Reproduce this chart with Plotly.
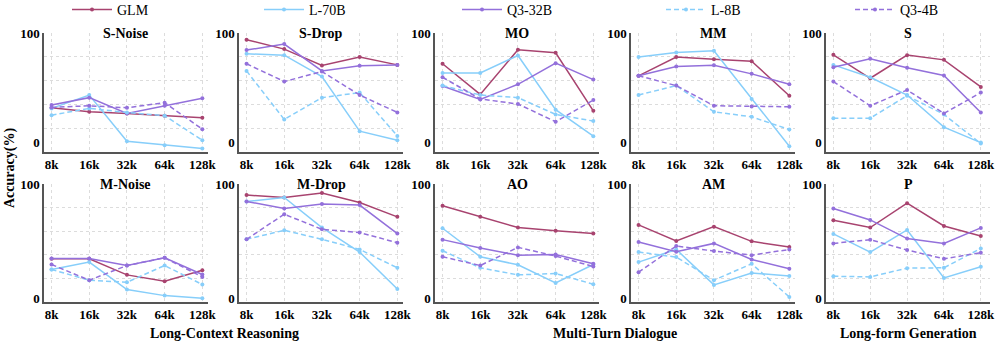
"""Accuracy of five models over context length, ten tasks in two rows"""
import plotly.graph_objects as go

# categories
contexts = ["8k", "16k", "32k", "64k", "128k"]
models = ["GLM", "L-70B", "Q3-32B", "L-8B", "Q3-4B"]
tasks = ["S-Noise", "S-Drop", "MO", "MM", "S",
         "M-Noise", "M-Drop", "AO", "AM", "P"]
groups = ["Long-Context Reasoning", "Multi-Turn Dialogue", "Long-form Generation"]

# accuracy (%) per task, one list per model (8k ... 128k)
s_noise = {"GLM": [31.8, 28.1, 26.6, 24.5, 22.6],
           "L-70B": [31.2, 43.4, 1.2, -2.4, -5.5],
           "Q3-32B": [34.3, 41.0, 26.6, 33.6, 40.4],
           "L-8B": [25.0, 31.2, 27.5, 24.5, 2.1],
           "Q3-4B": [32.1, 33.6, 31.8, 36.4, 12.2]}
s_drop = {"GLM": [93.9, 85.3, 70.3, 78.0, 70.9],
          "L-70B": [81.0, 79.8, 60.2, 10.4, 2.1],
          "Q3-32B": [84.4, 89.9, 65.4, 70.0, 70.9],
          "L-8B": [65.4, 21.1, 41.0, 45.6, 6.1],
          "Q3-4B": [71.9, 55.7, 64.8, 43.4, 27.5]}
mo = {"GLM": [71.9, 44.0, 84.7, 82.0, 29.0],
      "L-70B": [63.6, 63.6, 79.5, 30.0, 5.8],
      "Q3-32B": [51.7, 39.4, 53.2, 72.5, 57.5],
      "L-8B": [52.0, 43.4, 41.0, 25.7, 19.6],
      "Q3-4B": [59.6, 39.8, 35.2, 19.0, 38.8]}
mm = {"GLM": [60.9, 78.0, 76.1, 74.3, 42.8],
      "L-70B": [78.0, 82.3, 83.8, 39.8, -3.4],
      "Q3-32B": [60.9, 69.4, 70.6, 62.7, 53.2],
      "L-8B": [43.4, 52.0, 28.1, 23.5, 11.9],
      "Q3-4B": [60.9, 52.0, 33.6, 33.0, 32.7]}
s = {"GLM": [80.1, 58.7, 79.8, 75.5, 50.8],
     "L-70B": [70.9, 59.6, 43.4, 14.1, 0.0],
     "Q3-32B": [68.8, 76.5, 68.2, 61.2, 27.5],
     "L-8B": [22.3, 22.3, 42.8, 25.7, -0.9],
     "Q3-4B": [55.7, 33.6, 48.0, 26.6, 45.6]}
m_noise = {"GLM": [34.4, 34.4, 20.3, 14.7, 24.4],
           "L-70B": [25.0, 31.5, 7.4, 2.1, -0.3],
           "Q3-32B": [34.7, 34.7, 28.5, 35.3, 20.6],
           "L-8B": [25.0, 15.6, 13.8, 28.5, 11.8],
           "Q3-4B": [29.4, 15.6, 28.5, 35.3, 18.5]}
m_drop = {"GLM": [90.3, 88.2, 92.0, 83.8, 71.2],
          "L-70B": [84.7, 88.2, 61.8, 40.3, 7.9],
          "Q3-32B": [84.7, 78.5, 82.4, 81.5, 56.5],
          "L-8B": [51.5, 59.4, 51.5, 42.6, 26.5],
          "Q3-4B": [51.5, 73.5, 60.3, 57.4, 48.5]}
ao = {"GLM": [80.9, 71.2, 61.8, 59.1, 56.5],
      "L-70B": [61.2, 36.2, 29.1, 13.2, 29.4],
      "Q3-32B": [51.2, 43.8, 37.6, 38.2, 30.0],
      "L-8B": [41.5, 26.5, 20.3, 21.5, 12.1],
      "Q3-4B": [36.2, 28.5, 44.4, 36.8, 27.6]}
am = {"GLM": [64.1, 50.0, 62.6, 49.7, 44.7],
      "L-70B": [31.5, 42.6, 11.5, 22.0, 19.4],
      "Q3-32B": [49.1, 40.6, 47.9, 33.8, 25.6],
      "L-8B": [40.3, 35.9, 15.6, 30.0, 0.9],
      "Q3-4B": [22.6, 45.6, 41.2, 37.6, 42.6]}
p = {"GLM": [68.2, 61.8, 83.2, 63.2, 54.4],
     "L-70B": [56.2, 40.3, 59.7, 17.6, 27.4],
     "Q3-32B": [78.5, 68.5, 52.1, 47.9, 61.5],
     "L-8B": [19.1, 18.5, 26.2, 26.5, 43.5],
     "Q3-4B": [47.9, 51.2, 42.1, 34.4, 39.7]}

scores = [s_noise, s_drop, mo, mm, s, m_noise, m_drop, ao, am, p]

# styles
colors = {"GLM": "#A8436F", "L-70B": "#87CEFA", "Q3-32B": "#9370DB",
          "L-8B": "#87CEFA", "Q3-4B": "#9370DB"}
dashes = {"GLM": "solid", "L-70B": "solid", "Q3-32B": "solid",
          "L-8B": "5px,3px", "Q3-4B": "5px,3px"}

W, H = 996, 343
SERIF = "Liberation Serif"
col_left = [44, 239, 435, 631, 826]   # px
col_w = 164
col_xmax = [4.15, 4.15, 4.15, 4.15, 4.25]  # last column a bit tighter
row_px = [(33, 152), (184, 302)]      # top / bottom of each row, px from top
row_range = [(-8.6, 100), (-3.5, 100)]
legend_px = [73, 265, 463, 667, 856]  # where each legend line starts


def bold(size):
    return dict(family=SERIF, size=size, color="black", weight="bold")


fig = go.Figure()
layout = dict(width=W, height=H,
              margin=dict(l=0, r=0, t=0, b=0, autoexpand=False),
              plot_bgcolor="white", paper_bgcolor="white",
              showlegend=True, annotations=[])

# one small legend per model, so each entry sits where the reference has it
for k, m in enumerate(models):
    key = "legend" if k == 0 else "legend" + str(k + 1)
    layout[key] = dict(orientation="h", x=(legend_px[k] - 6) / W,
                       y=1 - 10 / H, xanchor="left", yanchor="middle",
                       itemwidth=40, bgcolor="rgba(0,0,0,0)",
                       font=dict(family=SERIF, size=14, color="black"))

for i, task in enumerate(tasks):
    row, col = divmod(i, 5)
    n = "" if i == 0 else str(i + 1)
    x0 = col_left[col] / W
    x1 = (col_left[col] + col_w) / W
    top, bot = row_px[row]
    y0, y1 = 1 - bot / H, 1 - top / H
    lo, hi = row_range[row]
    grid = [lo + k * (hi - lo) / 5 for k in range(1, 6)]

    layout["xaxis" + n] = dict(
        domain=[x0, x1], anchor="y" + n, type="category",
        range=[-0.2, col_xmax[col]], showline=True, linecolor="#555",
        linewidth=1.5, showgrid=True, gridcolor="#dcdcdc", griddash="dot",
        gridwidth=1, ticks="", tickfont=bold(13), zeroline=False)
    layout["yaxis" + n] = dict(
        domain=[y0, y1], anchor="x" + n, range=[lo, hi],
        tickmode="array", tickvals=[0, 100], ticktext=["0", "100"],
        showline=True, linecolor="#555", linewidth=1.5, showgrid=False,
        zeroline=False, ticks="", tickfont=bold(13),
        minor=dict(tickmode="array", tickvals=grid, showgrid=True,
                   gridcolor="#dcdcdc", griddash="dot", gridwidth=1))

    for k, m in enumerate(models):
        fig.add_trace(go.Scatter(
            x=contexts, y=scores[i][m], name=m, mode="lines+markers",
            xaxis="x" + n, yaxis="y" + n, showlegend=(i == 0),
            legend="legend" if k == 0 else "legend" + str(k + 1),
            line=dict(color=colors[m], width=1.5, dash=dashes[m]),
            marker=dict(color=colors[m], size=4)))

    layout["annotations"].append(dict(
        text=task, xref="paper", yref="paper", x=(x0 + x1) / 2, y=y1,
        xanchor="center", yanchor="middle", showarrow=False, font=bold(14)))

# group labels under the bottom row
group_x = [(44 + 405) / 2, (435 + 795) / 2, (826 + 990) / 2]
for g, gx in zip(groups, group_x):
    layout["annotations"].append(dict(
        text=g, xref="paper", yref="paper", x=gx / W, y=1 - 333 / H,
        xanchor="center", yanchor="middle", showarrow=False, font=bold(14)))

layout["annotations"].append(dict(
    text="Accuracy(%)", xref="paper", yref="paper", x=10 / W, y=1 - 168 / H,
    textangle=-90, xanchor="center", yanchor="middle", showarrow=False,
    font=bold(14)))

fig.update_layout(layout)
# the page body has an 8px margin by default; drop it so the figure sits at 0,0
fig.write_html("out.html", config={"displayModeBar": False},
               post_script="document.body.style.margin='0';")
